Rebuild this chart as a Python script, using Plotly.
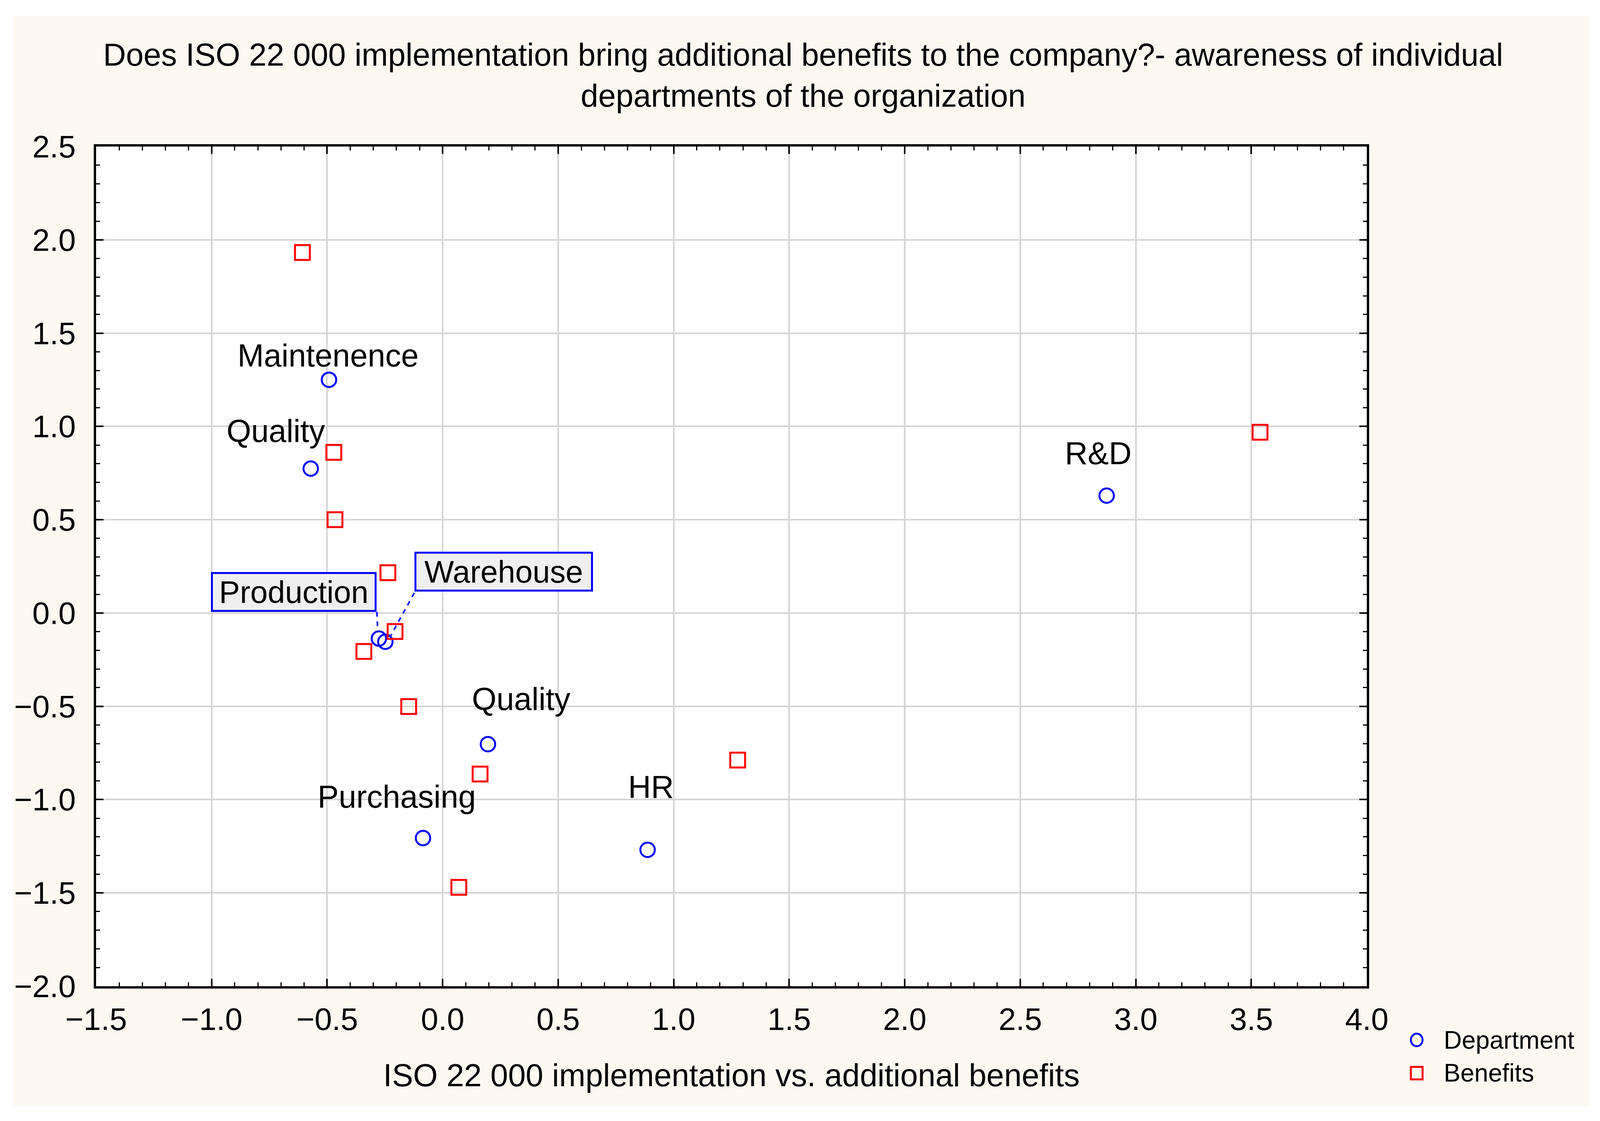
import plotly.graph_objects as go

# department coordinates (blue circles)
dept_labels = ["Maintenence", "Quality", "R&D", "Production", "Warehouse",
               "Quality", "Purchasing", "HR"]
dept_x = [-0.492, -0.571, 2.874, -0.276, -0.248, 0.196, -0.085, 0.887]
dept_y = [1.250, 0.774, 0.629, -0.137, -0.154, -0.703, -1.206, -1.269]

# benefits coordinates (red squares)
ben_x = [-0.607, -0.471, -0.466, -0.237, -0.206, -0.341, -0.147, 0.162, 0.070, 1.277, 3.538]
ben_y = [1.932, 0.861, 0.500, 0.216, -0.099, -0.206, -0.501, -0.863, -1.470, -0.788, 0.969]

title_text = ("Does ISO 22 000 implementation bring additional benefits to the company?- "
              "awareness of individual<br>departments of the organization")
x_title = "ISO 22 000 implementation vs. additional benefits"

FONT = "Arial, Liberation Sans, sans-serif"
BLUE = "#0000FF"
RED = "#FF0000"
CREAM = "#FDF9F1"
W, H = 4096, 2869

# label placement in pixels (dx, dy up) for the plain labels
plain_offsets = {0: (-2, 62), 1: (-89, 96), 2: (-22, 109), 5: (85, 116), 6: (-67, 106), 7: (9, 161)}

fig = go.Figure()

fig.add_trace(go.Scatter(x=dept_x, y=dept_y, mode='markers', name='Department',
                         marker=dict(symbol='circle-open', size=37, color=BLUE,
                                     line=dict(color=BLUE, width=5))))
fig.add_trace(go.Scatter(x=ben_x, y=ben_y, mode='markers', name='Benefits',
                         marker=dict(symbol='square-open', size=38, color=RED,
                                     line=dict(color=RED, width=5))))

annotations = []
for i, (dx, dy) in plain_offsets.items():
    annotations.append(dict(x=dept_x[i], y=dept_y[i], xref='x', yref='y',
                            text=dept_labels[i], showarrow=False,
                            xanchor='center', yanchor='middle',
                            xshift=dx, yshift=dy,
                            font=dict(family=FONT, size=81, color='black')))

# boxed labels with dashed leader lines
boxed = {3: dict(xanchor='right', xshift=-6, yshift=68, width=414, lead=((-5, 68), (-3, 19))),
         4: dict(xanchor='left', xshift=74, yshift=128, width=447, lead=((74, 125), (13, 14)))}
shapes = []
for i, b in boxed.items():
    annotations.append(dict(x=dept_x[i], y=dept_y[i], xref='x', yref='y',
                            text=dept_labels[i], showarrow=False,
                            xanchor=b['xanchor'], yanchor='bottom',
                            xshift=b['xshift'], yshift=b['yshift'],
                            width=b['width'], height=92, align='center',
                            bgcolor='#EFEFEF', bordercolor=BLUE, borderwidth=5, borderpad=0,
                            font=dict(family=FONT, size=80, color='black')))
    (x0, y0), (x1, y1) = b['lead']
    shapes.append(dict(type='line', xref='x', yref='y',
                       xsizemode='pixel', ysizemode='pixel',
                       xanchor=dept_x[i], yanchor=dept_y[i],
                       x0=x0, y0=y0, x1=x1, y1=y1,
                       line=dict(color=BLUE, width=4, dash='dash')))

# cream panel and white plot area
shapes.insert(0, dict(type='rect', xref='paper', yref='paper', layer='below',
                      x0=-0.0652, x1=1.1754, y0=-0.1424, y1=1.1554,
                      fillcolor=CREAM, line=dict(width=0)))
shapes.insert(1, dict(type='rect', xref='paper', yref='paper', layer='below',
                      x0=0, x1=1, y0=0, y1=1, fillcolor='white', line=dict(width=0)))

# legend keys
leg_x = 1.0393
leg_rows = [(-0.0640, 'circle', BLUE, 'Department'), (-0.1035, 'rect', RED, 'Benefits')]
for ly, kind, col, name in leg_rows:
    shapes.append(dict(type=kind, xref='paper', yref='paper',
                       xsizemode='pixel', ysizemode='pixel',
                       xanchor=leg_x, yanchor=ly, x0=-15, x1=15, y0=-16, y1=16,
                       line=dict(color=col, width=5)))
    annotations.append(dict(x=1.0598, y=ly, xref='paper', yref='paper', text=name,
                            showarrow=False, xanchor='left', yanchor='middle',
                            font=dict(family=FONT, size=64, color='black')))

axis_common = dict(showgrid=True, gridcolor='#D4D4D4', gridwidth=4,
                   showline=True, linecolor='black', linewidth=6, mirror='ticks',
                   ticks='inside', ticklen=19, tickwidth=4, tickcolor='black',
                   zeroline=False, tickformat='.1f', dtick=0.5,
                   tickfont=dict(family=FONT, size=80, color='black'),
                   minor=dict(dtick=0.1, ticks='inside', ticklen=10, tickwidth=3,
                              tickcolor='black', showgrid=False))

fig.update_layout(
    width=W, height=H,
    margin=dict(l=238, r=605, t=367, b=353),
    paper_bgcolor='white', plot_bgcolor='white',
    showlegend=False,
    title=dict(text=title_text, x=0.5, xref='container', xanchor='center',
               y=1 - 160 / H, yref='container', yanchor='top',
               font=dict(family=FONT, size=81, color='black')),
    xaxis=dict(range=[-1.5, 4.0], tick0=-1.5, ticklabelstandoff=10,
               title=dict(text=x_title, standoff=73,
                          font=dict(family=FONT, size=81, color='black')),
               **axis_common),
    yaxis=dict(range=[-2.0, 2.5], tick0=-2.0, ticklabelstandoff=30, **axis_common),
    annotations=annotations,
    shapes=shapes,
)

fig.write_html("out.html")
